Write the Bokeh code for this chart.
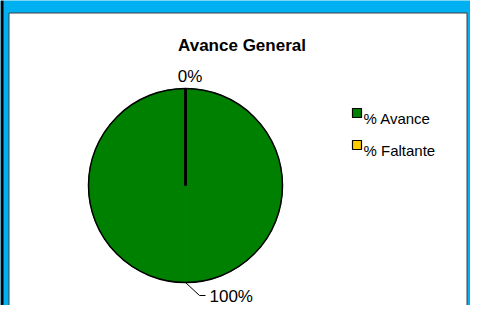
import numpy as np
from bokeh.plotting import figure
from bokeh.models import Range1d, ColumnDataSource
from bokeh.embed import file_html
from bokeh.resources import INLINE
from bokeh.core.properties import value

# ---- data ----
title = "Avance General"
categories = ["% Avance", "% Faltante"]
values = [100, 0]
colors = ["#008000", "#FFCC00"]

# ---- layout helpers (reference pixel -> figure data coords) ----
W, H = 470, 305
BLUE = "#00B0F0"
FONT = "Liberation Sans"


def fx(x):
    return x


def fy(y):
    return H - y


p = figure(width=W, height=H, x_range=Range1d(0, W), y_range=Range1d(0, H),
           output_backend="svg", toolbar_location=None, min_border=0,
           x_axis_location=None, y_axis_location=None)
p.grid.visible = False
p.outline_line_color = None
p.background_fill_color = BLUE
p.border_fill_color = BLUE

# dark strip at the far left and chart area panel
p.quad(left=[0], right=[3], top=[H], bottom=[0], fill_color="black", line_color=None)
p.quad(left=[fx(8.5)], right=[W - 3.5], top=[fy(12.5)], bottom=[-10],
       fill_color="white", line_color="#3F3F3F", line_width=1)

# title
p.text(x=[fx(241.5)], y=[fy(45)], text=[title], text_font=value(FONT),
       text_font_size="17px", text_font_style="bold", text_align="center",
       text_baseline="alphabetic", text_color="black")

# ---- pie ----
cx, cy, R = fx(185), fy(185), 97
total = float(sum(values))
frac = np.array(values, dtype=float) / total
cum = np.concatenate([[0.0], np.cumsum(frac)])
start = np.pi / 2 - 2 * np.pi * cum[:-1]
end = np.pi / 2 - 2 * np.pi * cum[1:]
mid = (start + end) / 2
n = len(values)

# fill: each non-empty slice drawn as two halves (a single 360 deg wedge is not drawn)
ws, we, wc = [], [], []
for i in range(n):
    if frac[i] > 0:
        ws += [start[i], mid[i]]
        we += [mid[i], end[i]]
        wc += [colors[i], colors[i]]
wsrc = ColumnDataSource(dict(x=[cx] * len(ws), y=[cy] * len(ws), start=ws, end=we, color=wc))
p.wedge(x="x", y="y", radius=R, start_angle="start", end_angle="end",
        direction="clock", fill_color="color", line_color="color",
        line_width=0.8, source=wsrc)

# outline: rim + slice boundaries
p.circle(x=[cx], y=[cy], radius=R, fill_color=None, line_color="black", line_width=1.5)
p.segment(x0=[cx] * n, y0=[cy] * n, x1=cx + R * np.cos(start), y1=cy + R * np.sin(start),
          line_color="black", line_width=2.6)

# data labels
labels = [f"{v / total * 100:.0f}%" for v in values]
ax = cx + R * np.cos(mid)
ay = cy + R * np.sin(mid)
for i in range(n):
    if values[i] == 0:
        p.text(x=[ax[i] + 4.5], y=[ay[i] + 12], text=[labels[i]], text_font=value(FONT),
               text_font_size="17px", text_align="center", text_baseline="alphabetic",
               text_color="black")
    else:
        p.line(x=[ax[i], ax[i] + 14, ax[i] + 20], y=[ay[i], ay[i] - 13, ay[i] - 13],
               line_color="black", line_width=1)
        p.text(x=[ax[i] + 24], y=[ay[i] - 14], text=[labels[i]], text_font=value(FONT),
               text_font_size="17px", text_align="left", text_baseline="alphabetic",
               text_color="black")

# ---- legend ----
lx, ly0, lstep = fx(356.5), fy(112.5), 32
ly = [ly0 - i * lstep for i in range(n)]
p.rect(x=[lx] * n, y=ly, width=9, height=9, fill_color=colors, line_color="black", line_width=1.2)
p.text(x=[lx + 6.5] * n, y=[v - 5 for v in ly], text=categories, text_font=value(FONT),
       text_font_size="15px", text_align="left", text_baseline="alphabetic", text_color="black")

open("out.html", "w").write(file_html(p, INLINE))
